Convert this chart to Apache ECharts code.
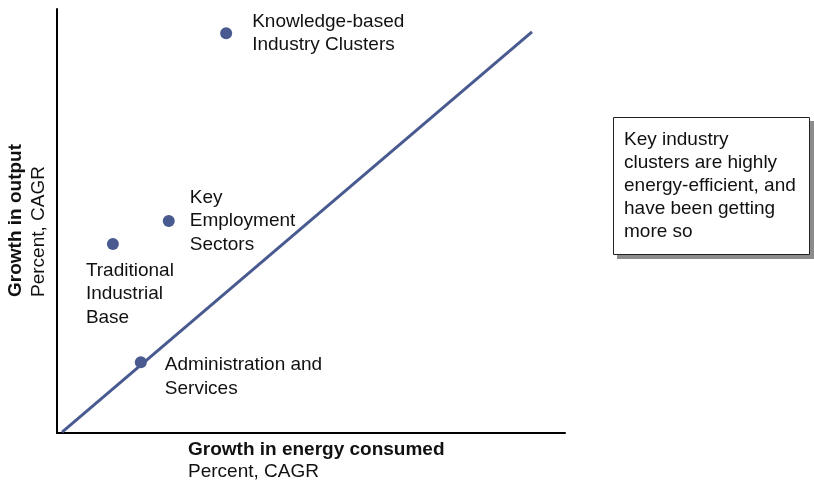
<!DOCTYPE html>
<html>
<head>
<meta charset="utf-8">
<script src="https://cdn.jsdelivr.net/npm/echarts@6/dist/echarts.min.js"></script>
<style>
html,body{margin:0;padding:0;background:#fff;}
#c{width:814px;height:483px;}
</style>
</head>
<body>
<div id="c"></div>
<script>
// Data (arbitrary index scale 0-100)
const categories = ['Knowledge-based\nIndustry Clusters', 'Key\nEmployment\nSectors', 'Traditional\nIndustrial\nBase', 'Administration and\nServices'];
const energyGrowth = [33.3, 22.0, 11.0, 16.5];
const outputGrowth = [94.3, 50.0, 44.6, 16.7];
const parityLineX = [1.0, 93.5];
const parityLineY = [0.2, 94.6];
const xTitle = 'Growth in energy consumed';
const yTitle = 'Growth in output';
const unitText = 'Percent, CAGR';
const noteText = 'Key industry\nclusters are highly\nenergy-efficient, and\nhave been getting\nmore so';

const FONT = '"Liberation Sans", Arial, sans-serif';
const BLUE = '#485a8f';

const labelStyles = [
  { position: 'right', distance: 20 },
  { position: 'right', distance: 15 },
  { position: [-21, 21], align: 'left', verticalAlign: 'top' },
  { position: [30, -3], align: 'left', verticalAlign: 'top' }
];

const scatterData = categories.map((c, i) => ({
  name: c,
  value: [energyGrowth[i], outputGrowth[i]],
  label: Object.assign({ show: true, formatter: c, fontFamily: FONT, fontSize: 19, color: '#111', lineHeight: 23.5 }, labelStyles[i])
}));

const chart = echarts.init(document.getElementById('c'), null, { renderer: 'canvas' });
chart.setOption({
  animation: false,
  grid: { left: 57, top: 9, right: 249, bottom: 50, containLabel: false },
  xAxis: {
    type: 'value', min: 0, max: 100,
    axisLine: { show: true, lineStyle: { color: '#000', width: 2 } },
    axisTick: { show: false }, axisLabel: { show: false }, splitLine: { show: false }
  },
  yAxis: {
    type: 'value', min: 0, max: 100,
    axisLine: { show: true, lineStyle: { color: '#000', width: 2 } },
    axisTick: { show: false }, axisLabel: { show: false }, splitLine: { show: false }
  },
  series: [
    {
      type: 'line',
      data: parityLineX.map((x, i) => [x, parityLineY[i]]),
      symbol: 'none',
      lineStyle: { color: BLUE, width: 3 },
      silent: true, z: 2
    },
    {
      type: 'scatter',
      data: scatterData,
      symbolSize: 12,
      itemStyle: { color: BLUE, opacity: 1 },
      z: 3
    }
  ],
  graphic: [
    { type: 'text', left: 188, top: 440, style: { text: xTitle, font: 'bold 19px ' + FONT, fill: '#111' } },
    { type: 'text', left: 188, top: 462, style: { text: unitText, font: '19px ' + FONT, fill: '#111' } },
    { type: 'text', x: 6, y: 297, rotation: Math.PI / 2, style: { text: yTitle, font: 'bold 19px ' + FONT, fill: '#111', align: 'left', verticalAlign: 'top' } },
    { type: 'text', x: 29, y: 297, rotation: Math.PI / 2, style: { text: unitText, font: '19px ' + FONT, fill: '#111', align: 'left', verticalAlign: 'top' } },
    { type: 'rect', shape: { x: 617, y: 121, width: 197, height: 138 }, style: { fill: '#8c8c8c' }, z: 10 },
    { type: 'rect', shape: { x: 613.5, y: 117.5, width: 196, height: 137 }, style: { fill: '#fff', stroke: '#222', lineWidth: 1 }, z: 11 },
    { type: 'text', x: 624, y: 128.5, style: { text: noteText, font: '19px ' + FONT, fill: '#111', lineHeight: 23 }, z: 12 }
  ]
});
</script>
</body>
</html>
